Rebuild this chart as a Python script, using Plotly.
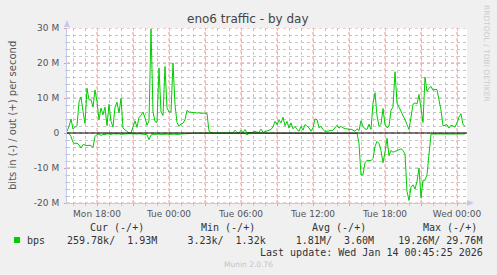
import pandas as pd
import plotly.graph_objects as go

# ---------------- data (Mbit/s, 10-minute samples starting Mon 15:30) ----------------
start_time = "2026-01-12 15:30"
end_time = "2026-01-14 00:50"

out_mbps = [
    0.5, 1.9, 4.0, 1.1, 1.7, 2.1, 8.8, 10.3, 6.2, 2.7,
    12.8, 9.5, 9.5, 7.4, 12.3, 9.0, 3.8, 7.1, 5.2, 7.4,
    2.1, 8.2, 3.3, 1.7, 7.4, 8.8, 5.7, 9.9, 1.4, 1.0,
    0.5, 0.0, 0.0, 1.9, 3.5, 1.6, 4.5, 5.0, 6.0, 4.3,
    2.2, 3.5, 29.76, 6.0, 3.3, 3.0, 18.6, 6.0, 5.0, 19.0,
    7.2, 6.0, 6.0, 20.0, 8.1, 3.0, 1.9, 2.6, 2.8, 3.8,
    6.5, 6.0, 5.9, 5.7, 5.6, 5.7, 5.8, 5.6, 5.7, 5.7,
    5.6, 0.5, 0.1, 0.0, 0.0, 0.0, 0.0, 0.0, 0.0, 0.0,
    0.0, 0.0, 0.0, 0.0, 0.8, 0.2, 0.0, 0.8, 0.1, 1.0,
    0.0, 0.1, 0.0, 0.2, 0.5, 0.2, 0.2, 1.1, 0.2, 0.4,
    0.5, 0.6, 1.0, 1.8, 3.3, 2.4, 3.7, 2.9, 4.5, 2.1,
    3.3, 1.4, 2.9, 1.2, 1.9, 1.0, 0.5, 1.9, 0.8, 2.4,
    1.9, 1.5, 0.5, 1.5, 4.0, 3.8, 1.5, 1.9, 1.0, 0.5,
    0.5, 0.5, 0.7, 0.8, 1.4, 2.2, 1.4, 1.9, 1.5, 1.2,
    1.2, 1.0, 1.1, 0.8, 0.5, 1.2, 0.7, 3.5, 1.9, 1.2,
    1.0, 2.5, 1.0, 8.6, 11.5, 5.0, 1.9, 2.5, 7.0, 2.4,
    1.5, 2.0, 6.5, 7.5, 17.5, 8.6, 7.4, 6.2, 5.4, 3.8,
    2.4, 1.0, 4.5, 8.2, 8.6, 8.3, 11.0, 7.0, 3.0, 16.0,
    11.9, 12.8, 13.3, 12.2, 12.5, 12.4, 9.5, 6.5, 2.0, 2.1,
    2.4, 1.4, 2.2, 2.0, 1.7, 2.9, 4.6, 5.5, 2.4, 1.93,
]

in_mbps = [
    0.0, 0.1, 1.0, 2.7, 3.0, 2.9, 3.4, 4.3, 3.3, 3.5,
    3.6, 3.5, 3.6, 4.1, 1.0, 0.4, 0.3, 0.7, 0.4, 0.5,
    0.2, 0.3, 0.4, 0.2, 0.3, 0.3, 0.2, 0.4, 0.3, 0.2,
    0.3, 0.2, 0.2, 0.3, 0.2, 0.3, 0.2, 0.2, 0.3, 0.4,
    0.5, 1.9, 0.6, 0.3, 0.4, 0.3, 0.3, 0.4, 0.3, 0.3,
    0.3, 0.4, 0.3, 0.3, 0.3, 0.4, 0.3, 0.3, 0.3, 0.2,
    0.2, 0.1, 0.05, 0.05, 0.05, 0.05, 0.05, 0.05, 0.05, 0.05,
    0.05, 0.05, 0.05, 0.05, 0.05, 0.05, 0.05, 0.05, 0.05, 0.05,
    0.05, 0.05, 0.05, 0.05, 0.05, 0.05, 0.05, 0.05, 0.1, 0.1,
    0.5, 0.1, 0.05, 0.1, 0.05, 0.1, 0.05, 0.05, 0.1, 0.05,
    0.05, 0.05, 0.1, 0.05, 0.1, 0.05, 0.1, 0.05, 0.1, 0.1,
    0.05, 0.1, 0.05, 0.1, 0.05, 0.1, 0.1, 0.05, 0.1, 0.05,
    0.1, 0.05, 0.1, 0.05, 0.1, 0.1, 0.05, 0.1, 0.05, 0.1,
    0.05, 0.1, 0.05, 0.1, 0.05, 0.1, 0.05, 0.1, 0.05, 0.1,
    0.05, 0.1, 0.1, 0.1, 0.1, 0.1, 3.0, 12.0, 11.9, 8.5,
    7.8, 7.9, 7.9, 7.3, 3.8, 2.4, 3.0, 5.0, 8.5, 5.5,
    1.5, 6.5, 5.0, 5.5, 5.2, 5.0, 4.8, 4.5, 5.0, 6.0,
    16.7, 19.26, 15.5, 14.8, 16.0, 13.8, 10.0, 18.5, 13.5, 13.5,
    11.9, 6.0, 0.3, 0.3, 0.25, 0.3, 0.3, 0.25, 0.3, 0.3,
    0.25, 0.3, 0.3, 0.25, 0.3, 0.3, 0.25, 0.3, 0.3, 0.26,
]

x_tick_vals = ["2026-01-12 18:00", "2026-01-12 21:00", "2026-01-13 00:00", "2026-01-13 03:00",
               "2026-01-13 06:00", "2026-01-13 09:00", "2026-01-13 12:00", "2026-01-13 15:00",
               "2026-01-13 18:00", "2026-01-13 21:00", "2026-01-14 00:00"]
x_tick_text = ["Mon 18:00", "", "Tue 00:00", "", "Tue 06:00", "", "Tue 12:00", "",
               "Tue 18:00", "", "Wed 00:00"]
y_tick_vals = [-20, -10, 0, 10, 20, 30]
y_tick_text = ["-20 M", "-10 M", "0", "10 M", "20 M", "30 M"]

title_text = "eno6 traffic - by day"
y_title = "bits in (-) / out (+) per second"
headers = ["Cur (-/+)", "Min (-/+)", "Avg (-/+)", "Max (-/+)"]
legend_name = "bps"
legend_values = "259.78k/  1.93M     3.23k/  1.32k     1.81M/  3.60M    19.26M/ 29.76M"
last_update = "Last update: Wed Jan 14 00:45:25 2026"
footer = "Munin 2.0.76"
watermark = "RRDTOOL / TOBI OETIKER"

# ---------------- figure ----------------
times = pd.date_range(start_time, periods=len(out_mbps), freq="10min")
GREEN = "#00CC00"

W, H = 497, 275
L, R, T, B = 67, 30, 28, 72
PW, PH = W - L - R, H - T - B


def px(x):
    return (x - L) / PW


def py(y):
    return (H - B - y) / PH


fig = go.Figure()
fig.add_trace(go.Scatter(x=times, y=out_mbps, mode="lines",
                         line=dict(color=GREEN, width=1), hoverinfo="skip"))
fig.add_trace(go.Scatter(x=times, y=[-v for v in in_mbps], mode="lines",
                         line=dict(color=GREEN, width=1), hoverinfo="skip"))

MAJOR = "#ec9a9a"
MINOR = "#c4c4c4"
AXIS = "#c6c9ee"

fig.update_layout(
    width=W, height=H,
    margin=dict(l=L, r=R, t=T, b=B),
    paper_bgcolor="#f0f0f0",
    plot_bgcolor="#ffffff",
    showlegend=False,
    font=dict(family="DejaVu Sans", size=9, color="#555555"),
    xaxis=dict(
        type="date", range=[start_time, end_time],
        tickvals=x_tick_vals, ticktext=x_tick_text,
        showgrid=False,
        ticks="outside", ticklen=2, tickcolor=MAJOR,
        showline=True, linecolor=AXIS, linewidth=1,
        zeroline=False, fixedrange=True,
        tickfont=dict(family="DejaVu Sans", size=9, color="#555555"),
        minor=dict(dtick=3600000, tick0="2026-01-12 00:00", showgrid=True,
                   gridcolor=MINOR, griddash="dot", gridwidth=1,
                   ticks="outside", ticklen=2, tickcolor=MINOR),
    ),
    yaxis=dict(
        range=[-20, 30],
        tickvals=y_tick_vals, ticktext=y_tick_text,
        showgrid=False,
        ticks="outside", ticklen=2, tickcolor=MAJOR, ticklabelstandoff=3,
        showline=True, linecolor=AXIS, linewidth=1,
        zeroline=False, fixedrange=True,
        tickfont=dict(family="DejaVu Sans", size=9, color="#555555"),
        minor=dict(dtick=2, tick0=0, showgrid=True, gridcolor=MINOR, griddash="dot",
                   gridwidth=1, ticks="outside", ticklen=1, tickcolor=MINOR),
    ),
)

shapes = []
# major grid (red dotted), between minor grid and traces
for xv in x_tick_vals:
    shapes.append(dict(type="line", xref="x", yref="paper", x0=xv, x1=xv, y0=0, y1=1,
                       line=dict(color=MAJOR, width=1, dash="dot"), layer="between"))
for yv in y_tick_vals:
    shapes.append(dict(type="line", xref="paper", yref="y", x0=0, x1=1, y0=yv, y1=yv,
                       line=dict(color=MAJOR, width=1, dash="dot"), layer="between"))
shapes += [
    # zero rule on top
    dict(type="line", xref="paper", yref="y", x0=0, x1=1, y0=0, y1=0,
         line=dict(color="#000000", width=1.2), layer="above"),
    # axis arrows
    dict(type="path", xref="paper", yref="paper",
         path=f"M {px(64)},{py(27)} L {px(70)},{py(27)} L {px(67)},{py(20)} Z",
         fillcolor=AXIS, line=dict(width=0), layer="above"),
    dict(type="path", xref="paper", yref="paper",
         path=f"M {px(467)},{py(200)} L {px(467)},{py(206)} L {px(474)},{py(203)} Z",
         fillcolor=AXIS, line=dict(width=0), layer="above"),
    # legend swatch
    dict(type="rect", xref="paper", yref="paper",
         x0=px(14), x1=px(20), y0=py(243), y1=py(237),
         fillcolor=GREEN, line=dict(width=0)),
]
fig.update_layout(shapes=shapes)

MONO = "DejaVu Sans Mono"
ann = [
    dict(text=title_text, x=px(248), y=py(19), xanchor="center", yanchor="middle",
         font=dict(family="DejaVu Sans", size=12, color="#444444")),
    dict(text=y_title, x=px(12), y=py(115), xanchor="center", yanchor="middle",
         textangle=-90, font=dict(family="DejaVu Sans", size=10, color="#555555")),
    dict(text=watermark, x=px(487), y=py(53), xanchor="center", yanchor="middle",
         textangle=90, font=dict(family="DejaVu Sans", size=7.5, color="#cccccc")),
    dict(text=legend_name, x=px(26), y=py(240), xanchor="left", yanchor="middle",
         font=dict(family=MONO, size=10, color="#333333")),
    dict(text=legend_values.replace(" ", "&nbsp;"), x=px(66), y=py(240),
         xanchor="left", yanchor="middle",
         font=dict(family=MONO, size=10, color="#333333")),
    dict(text=last_update, x=px(484), y=py(252), xanchor="right", yanchor="middle",
         font=dict(family=MONO, size=10, color="#333333")),
    dict(text=footer, x=px(248), y=py(264), xanchor="center", yanchor="middle",
         font=dict(family="DejaVu Sans", size=7.5, color="#c4c4c4")),
]
for hx, htxt in zip([89, 200, 311, 422], headers):
    ann.append(dict(text=htxt, x=px(hx), y=py(227), xanchor="left", yanchor="middle",
                    font=dict(family=MONO, size=10, color="#333333")))
for a in ann:
    a.update(xref="paper", yref="paper", showarrow=False, borderpad=0)
fig.update_layout(annotations=ann)

fig.write_html("out.html", config={"displayModeBar": False})
